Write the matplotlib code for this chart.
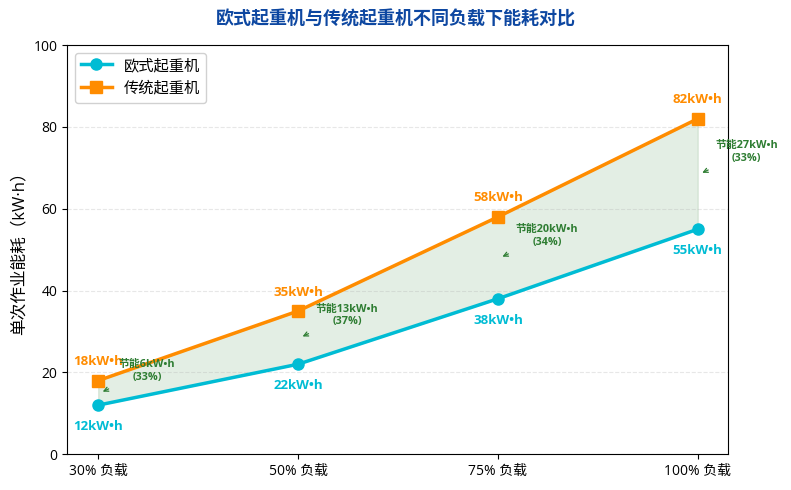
import matplotlib
matplotlib.use("Agg")
import matplotlib.pyplot as plt
import numpy as np

plt.rcParams["font.family"] = ["Open Sans", "Noto Sans CJK SC", "DejaVu Sans"]
plt.rcParams["axes.unicode_minus"] = False

# ── Data ──────────────────────────────────────────────────────────────────────
loads = ["30% 负载", "50% 负载", "75% 负载", "100% 负载"]
euro = [12, 22, 38, 55]
trad = [18, 35, 58, 82]
saving = [6, 13, 20, 27]
saving_pct = [33, 37, 34, 33]

C_EURO = "#00BCD4"
C_TRAD = "#FF8C00"
C_SAVE = "#2E7D32"

x = np.arange(len(loads))

fig, ax = plt.subplots(figsize=(7.91, 4.90), dpi=100)
fig.subplots_adjust(left=0.085, right=0.92, top=0.908, bottom=0.073)

ax.plot(x, euro, "-o", color=C_EURO, linewidth=2.5, markersize=8, label="欧式起重机", zorder=3)
ax.plot(x, trad, "-s", color=C_TRAD, linewidth=2.5, markersize=8, label="传统起重机", zorder=3)
ax.fill_between(x, euro, trad, color=C_SAVE, alpha=0.13, zorder=1)

for i in x:
    ax.annotate(f"{euro[i]}kW•h", (i, euro[i]), xytext=(0, -11), textcoords="offset points",
                ha="center", va="top", fontsize=9.5, fontweight="bold", color=C_EURO)
    ax.annotate(f"{trad[i]}kW•h", (i, trad[i]), xytext=(0, 9), textcoords="offset points",
                ha="center", va="bottom", fontsize=9.5, fontweight="bold", color=C_TRAD)
    mid = (euro[i] + trad[i]) / 2
    ax.annotate(f"节能{saving[i]}kW•h\n({saving_pct[i]}%)", xy=(i + 0.01, mid),
                xytext=(i + 0.245, mid + 5.4), ha="center", va="center",
                fontsize=7.8, fontweight="bold", color=C_SAVE,
                arrowprops=dict(arrowstyle="->", color=C_SAVE, lw=0.9, shrinkA=6, shrinkB=2))

ax.set_xticks(x)
ax.set_xticklabels(loads, fontsize=10)
ax.set_xlim(-0.155, 3.15)
ax.set_ylim(0, 100)
ax.set_yticks([0, 20, 40, 60, 80, 100])
ax.tick_params(axis="y", labelsize=10)
ax.set_ylabel("单次作业能耗（kW·h）", fontsize=12)
ax.grid(True, axis="y", linestyle="--", alpha=0.3)
ax.legend(loc="upper left", fontsize=11, framealpha=0.9)

fig.suptitle("欧式起重机与传统起重机不同负载下能耗对比", fontsize=13, fontweight="bold",
             color="#0D47A1", y=0.978)

fig.savefig("out.png", dpi=100)
